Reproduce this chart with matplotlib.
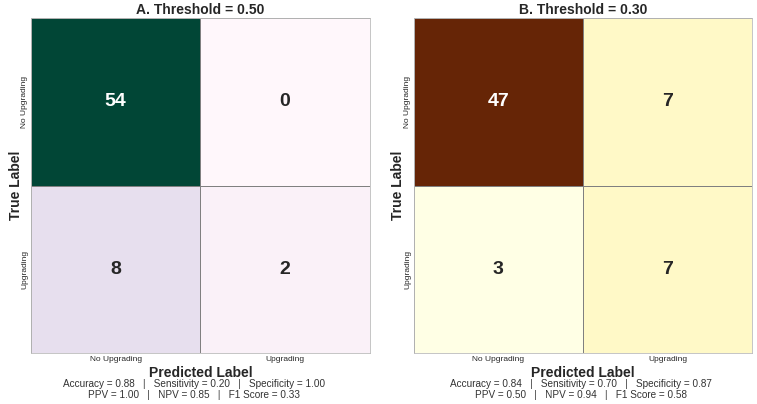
import matplotlib
matplotlib.use("Agg")
import matplotlib.pyplot as plt
import seaborn as sns
import numpy as np

sns.set_theme(style="whitegrid")
plt.rcParams['font.family'] = ['Liberation Sans', 'DejaVu Sans']

class_labels = ["No Upgrading", "Upgrading"]
cm_a = np.array([[54, 0], [8, 2]])
cm_b = np.array([[47, 7], [3, 7]])
titles = ["A. Threshold = 0.50", "B. Threshold = 0.30"]
cmaps = ["PuBuGn", "YlOrBr"]
metrics = [
    "Accuracy = 0.88   |   Sensitivity = 0.20   |   Specificity = 1.00\n"
    "PPV = 1.00   |   NPV = 0.85   |   F1 Score = 0.33",
    "Accuracy = 0.84   |   Sensitivity = 0.70   |   Specificity = 0.87\n"
    "PPV = 0.50   |   NPV = 0.94   |   F1 Score = 0.58",
]
text_x = [0.256, 0.767]

fig, axes = plt.subplots(1, 2, figsize=(7.57, 4.04), dpi=100)
fig.subplots_adjust(left=0.041, right=0.994, top=0.955, bottom=0.126, wspace=0.13)

for ax, cm, title, cmap, text, tx in zip(axes, [cm_a, cm_b], titles, cmaps, metrics, text_x):
    sns.heatmap(cm, annot=True, fmt="d", cmap=cmap, cbar=False, ax=ax,
                linewidths=0.5, linecolor="gray",
                xticklabels=class_labels, yticklabels=class_labels,
                annot_kws={"fontsize": 14, "fontweight": "bold"})
    ax.set_title(title, fontsize=10, fontweight="bold", pad=3)
    ax.set_xlabel("Predicted Label", fontsize=10, fontweight="bold", labelpad=2)
    ax.set_ylabel("True Label", fontsize=10, fontweight="bold", labelpad=-1)
    ax.tick_params(axis="both", labelsize=6, length=0, pad=2)
    for s in ax.spines.values():
        s.set_visible(True)
        s.set_color("#bbbbbb")
        s.set_linewidth(0.6)
    fig.text(tx, 0.035, text, ha="center", va="center",
             fontsize=7.2, color="#333333", linespacing=1.1)

fig.savefig("out.png", dpi=100)
